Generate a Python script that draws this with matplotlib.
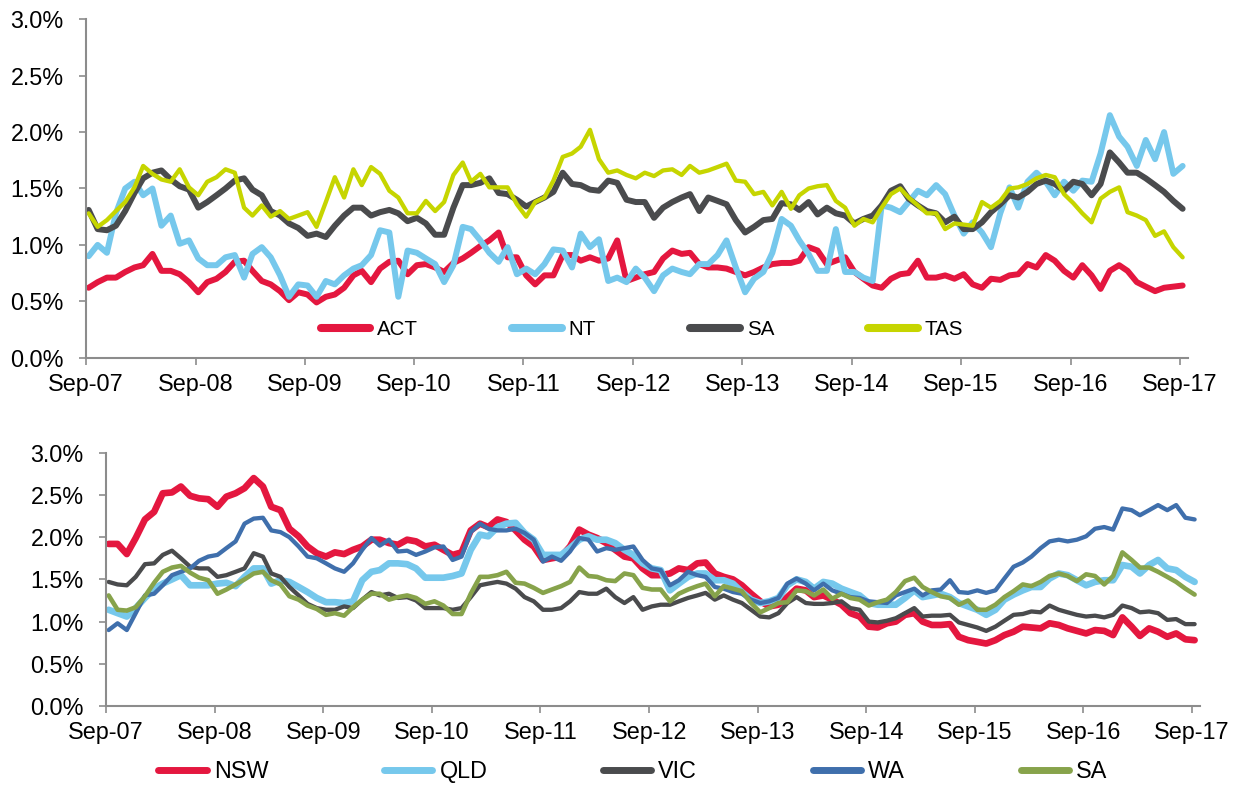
import numpy as np
import pandas as pd
import matplotlib
matplotlib.use("Agg")
import matplotlib.pyplot as plt
from matplotlib.ticker import FuncFormatter, MultipleLocator

plt.rcParams['font.family'] = ['Liberation Sans', 'DejaVu Sans']

# Monthly observations, Sep-07 .. Sep-17 (values in %)
act = [0.62, 0.67, 0.71, 0.71, 0.76, 0.80, 0.82, 0.92, 0.77, 0.77,
       0.74, 0.67, 0.58, 0.67, 0.70, 0.76, 0.85, 0.86, 0.77, 0.68,
       0.65, 0.59, 0.51, 0.58, 0.56, 0.49, 0.54, 0.56, 0.62, 0.73,
       0.77, 0.67, 0.79, 0.85, 0.86, 0.74, 0.82, 0.83, 0.80, 0.76,
       0.84, 0.88, 0.93, 0.99, 1.04, 1.11, 0.89, 0.89, 0.73, 0.65,
       0.73, 0.73, 0.91, 0.91, 0.86, 0.89, 0.86, 0.88, 1.04, 0.68,
       0.71, 0.74, 0.76, 0.88, 0.95, 0.92, 0.93, 0.83, 0.80, 0.80,
       0.79, 0.76, 0.73, 0.76, 0.80, 0.83, 0.84, 0.84, 0.86, 0.98,
       0.95, 0.83, 0.86, 0.89, 0.76, 0.70, 0.64, 0.62, 0.70, 0.74,
       0.75, 0.86, 0.71, 0.71, 0.73, 0.70, 0.74, 0.65, 0.62, 0.70,
       0.69, 0.73, 0.74, 0.83, 0.80, 0.91, 0.86, 0.77, 0.71, 0.82,
       0.73, 0.61, 0.77, 0.82, 0.77, 0.67, 0.63, 0.59, 0.62, 0.63, 0.64]

nt = [0.90, 1.00, 0.93, 1.28, 1.50, 1.56, 1.44, 1.50, 1.17, 1.26,
      1.01, 1.04, 0.88, 0.82, 0.82, 0.89, 0.91, 0.71, 0.92, 0.98,
      0.89, 0.73, 0.54, 0.65, 0.64, 0.54, 0.68, 0.65, 0.73, 0.79,
      0.82, 0.91, 1.13, 1.11, 0.54, 0.95, 0.93, 0.88, 0.83, 0.67,
      0.82, 1.16, 1.14, 1.04, 0.93, 0.85, 0.98, 0.74, 0.79, 0.74,
      0.83, 0.96, 0.95, 0.80, 1.10, 0.98, 1.05, 0.68, 0.71, 0.67,
      0.79, 0.71, 0.59, 0.73, 0.79, 0.76, 0.74, 0.83, 0.83, 0.91,
      1.04, 0.80, 0.58, 0.70, 0.76, 0.93, 1.23, 1.17, 1.04, 0.92,
      0.77, 0.77, 1.14, 0.76, 0.76, 0.71, 0.68, 1.35, 1.33, 1.29,
      1.38, 1.48, 1.44, 1.53, 1.45, 1.26, 1.10, 1.20, 1.11, 0.98,
      1.28, 1.51, 1.33, 1.56, 1.64, 1.56, 1.44, 1.56, 1.48, 1.57,
      1.56, 1.81, 2.15, 1.96, 1.87, 1.70, 1.93, 1.76, 2.00, 1.63, 1.70]

sa = [1.31, 1.14, 1.13, 1.17, 1.30, 1.46, 1.59, 1.64, 1.66, 1.58,
      1.52, 1.49, 1.33, 1.38, 1.44, 1.50, 1.57, 1.59, 1.49, 1.44,
      1.30, 1.26, 1.19, 1.15, 1.08, 1.10, 1.07, 1.17, 1.26, 1.33,
      1.33, 1.26, 1.29, 1.31, 1.28, 1.21, 1.24, 1.19, 1.09, 1.09,
      1.33, 1.53, 1.53, 1.55, 1.59, 1.46, 1.45, 1.40, 1.34, 1.38,
      1.42, 1.47, 1.64, 1.54, 1.53, 1.49, 1.48, 1.57, 1.55, 1.40,
      1.38, 1.38, 1.24, 1.33, 1.38, 1.42, 1.45, 1.30, 1.42, 1.39,
      1.36, 1.22, 1.11, 1.16, 1.22, 1.23, 1.37, 1.36, 1.31, 1.38,
      1.27, 1.33, 1.28, 1.26, 1.19, 1.23, 1.26, 1.35, 1.48, 1.52,
      1.41, 1.35, 1.30, 1.28, 1.20, 1.25, 1.14, 1.14, 1.20, 1.29,
      1.36, 1.44, 1.42, 1.47, 1.54, 1.57, 1.54, 1.48, 1.56, 1.54,
      1.44, 1.54, 1.82, 1.73, 1.64, 1.64, 1.59, 1.53, 1.47, 1.39, 1.32]

tas = [1.28, 1.16, 1.22, 1.30, 1.38, 1.51, 1.70, 1.63, 1.58, 1.56,
       1.67, 1.51, 1.44, 1.56, 1.60, 1.67, 1.64, 1.33, 1.26, 1.35,
       1.25, 1.30, 1.23, 1.26, 1.29, 1.16, 1.38, 1.60, 1.42, 1.67,
       1.53, 1.69, 1.63, 1.48, 1.42, 1.28, 1.28, 1.39, 1.30, 1.38,
       1.62, 1.73, 1.56, 1.63, 1.51, 1.51, 1.51, 1.36, 1.25, 1.38,
       1.42, 1.57, 1.78, 1.81, 1.87, 2.02, 1.76, 1.64, 1.66, 1.62,
       1.59, 1.64, 1.61, 1.66, 1.67, 1.62, 1.70, 1.64, 1.66, 1.69,
       1.72, 1.57, 1.56, 1.45, 1.47, 1.35, 1.47, 1.32, 1.44, 1.50,
       1.52, 1.53, 1.39, 1.33, 1.17, 1.23, 1.20, 1.33, 1.45, 1.50,
       1.42, 1.35, 1.28, 1.28, 1.14, 1.19, 1.18, 1.17, 1.38, 1.33,
       1.39, 1.50, 1.51, 1.54, 1.59, 1.62, 1.60, 1.45, 1.37, 1.28,
       1.20, 1.41, 1.47, 1.51, 1.29, 1.26, 1.22, 1.08, 1.12, 0.98, 0.89]

nsw = [1.92, 1.92, 1.80, 1.99, 2.21, 2.30, 2.52, 2.53, 2.60, 2.49,
       2.46, 2.45, 2.36, 2.48, 2.52, 2.58, 2.70, 2.60, 2.36, 2.32,
       2.10, 2.01, 1.89, 1.81, 1.77, 1.82, 1.80, 1.85, 1.89, 1.97,
       1.97, 1.93, 1.91, 1.97, 1.95, 1.89, 1.91, 1.85, 1.79, 1.82,
       2.08, 2.16, 2.12, 2.21, 2.18, 2.08, 1.97, 1.89, 1.73, 1.75,
       1.77, 1.89, 2.09, 2.03, 1.99, 1.93, 1.85, 1.77, 1.75, 1.63,
       1.55, 1.55, 1.57, 1.63, 1.61, 1.69, 1.70, 1.57, 1.53, 1.50,
       1.43, 1.33, 1.24, 1.18, 1.20, 1.29, 1.39, 1.37, 1.29, 1.31,
       1.26, 1.20, 1.10, 1.06, 0.94, 0.93, 0.98, 1.00, 1.08, 1.10,
       1.00, 0.96, 0.96, 0.97, 0.82, 0.78, 0.76, 0.74, 0.78, 0.84,
       0.88, 0.94, 0.93, 0.92, 0.98, 0.96, 0.92, 0.89, 0.86, 0.90,
       0.89, 0.84, 1.05, 0.94, 0.83, 0.92, 0.88, 0.82, 0.86, 0.79, 0.78]

qld = [1.14, 1.10, 1.06, 1.16, 1.28, 1.39, 1.45, 1.50, 1.55, 1.43,
       1.43, 1.43, 1.45, 1.46, 1.42, 1.53, 1.63, 1.63, 1.45, 1.49,
       1.47, 1.41, 1.35, 1.28, 1.23, 1.23, 1.22, 1.24, 1.49, 1.59,
       1.61, 1.69, 1.69, 1.68, 1.63, 1.52, 1.52, 1.52, 1.54, 1.57,
       1.85, 2.03, 2.01, 2.12, 2.16, 2.17, 2.05, 1.97, 1.79, 1.79,
       1.79, 1.87, 1.97, 2.01, 1.97, 1.97, 1.93, 1.85, 1.79, 1.69,
       1.63, 1.61, 1.37, 1.45, 1.53, 1.57, 1.57, 1.49, 1.49, 1.45,
       1.35, 1.26, 1.22, 1.24, 1.28, 1.43, 1.50, 1.47, 1.39, 1.47,
       1.45, 1.39, 1.35, 1.31, 1.22, 1.20, 1.20, 1.20, 1.28, 1.37,
       1.29, 1.31, 1.33, 1.29, 1.22, 1.18, 1.14, 1.08, 1.14, 1.26,
       1.32, 1.37, 1.41, 1.41, 1.51, 1.57, 1.55, 1.49, 1.43, 1.47,
       1.49, 1.49, 1.67, 1.65, 1.57, 1.67, 1.73, 1.63, 1.61, 1.53, 1.47]

vic = [1.47, 1.44, 1.43, 1.53, 1.68, 1.69, 1.79, 1.84, 1.75, 1.65,
       1.63, 1.63, 1.53, 1.55, 1.59, 1.63, 1.81, 1.77, 1.57, 1.53,
       1.41, 1.31, 1.21, 1.16, 1.14, 1.14, 1.18, 1.16, 1.26, 1.35,
       1.31, 1.33, 1.28, 1.29, 1.25, 1.16, 1.16, 1.16, 1.14, 1.16,
       1.29, 1.43, 1.45, 1.47, 1.45, 1.39, 1.29, 1.24, 1.14, 1.14,
       1.16, 1.24, 1.35, 1.33, 1.33, 1.39, 1.29, 1.22, 1.29, 1.14,
       1.18, 1.20, 1.20, 1.24, 1.28, 1.31, 1.34, 1.26, 1.31, 1.26,
       1.22, 1.14, 1.06, 1.05, 1.10, 1.22, 1.29, 1.22, 1.21, 1.21,
       1.22, 1.24, 1.16, 1.14, 1.00, 0.99, 1.01, 1.04, 1.10, 1.16,
       1.06, 1.07, 1.07, 1.08, 0.99, 0.96, 0.93, 0.89, 0.94, 1.01,
       1.08, 1.09, 1.12, 1.11, 1.19, 1.14, 1.11, 1.08, 1.06, 1.07,
       1.05, 1.08, 1.19, 1.16, 1.11, 1.12, 1.10, 1.02, 1.03, 0.97, 0.97]

wa = [0.90, 0.98, 0.90, 1.10, 1.31, 1.33, 1.43, 1.55, 1.59, 1.63,
      1.72, 1.77, 1.79, 1.87, 1.95, 2.16, 2.22, 2.23, 2.08, 2.06,
      2.00, 1.89, 1.77, 1.75, 1.69, 1.63, 1.59, 1.69, 1.85, 1.99,
      1.90, 1.97, 1.83, 1.84, 1.79, 1.83, 1.88, 1.89, 1.73, 1.77,
      2.06, 2.16, 2.10, 2.08, 2.08, 2.10, 2.05, 1.97, 1.71, 1.77,
      1.72, 1.83, 1.99, 1.97, 1.83, 1.87, 1.85, 1.87, 1.89, 1.73,
      1.63, 1.61, 1.43, 1.49, 1.59, 1.55, 1.53, 1.41, 1.39, 1.35,
      1.33, 1.26, 1.22, 1.24, 1.28, 1.45, 1.51, 1.45, 1.37, 1.45,
      1.37, 1.33, 1.29, 1.28, 1.24, 1.23, 1.22, 1.31, 1.35, 1.39,
      1.31, 1.37, 1.38, 1.49, 1.35, 1.34, 1.37, 1.34, 1.37, 1.51,
      1.65, 1.70, 1.77, 1.87, 1.95, 1.97, 1.95, 1.97, 2.01, 2.10,
      2.12, 2.09, 2.34, 2.32, 2.26, 2.32, 2.38, 2.32, 2.38, 2.23, 2.21]

# observation dates (early in each month) and yearly tick dates
dates = pd.date_range('2007-09-01', periods=len(act), freq='MS') + pd.Timedelta(days=9)
tick_dates = pd.date_range('2007-09-01', '2017-09-01', freq='12MS')
tick_labels = [d.strftime('%b-%y') for d in tick_dates]
x_end = pd.Timestamp('2017-09-28')

C_RED = '#e4173f'
C_LBLUE = '#76c8ec'
C_DGREY = '#4a4b4d'
C_LIME = '#c6d500'
C_BLUE = '#3f6fac'
C_OLIVE = '#87a34b'
AX_GREY = '#8c8c8c'
TICK_FS = 16.8

fig = plt.figure(figsize=(12.44, 7.90), dpi=100)
ax1 = fig.add_axes([0.0691, 0.5472, 0.8859, 0.4284])
ax2 = fig.add_axes([0.0852, 0.1063, 0.8794, 0.3206])


def style_axes(ax):
    ax.set_xlim(pd.Timestamp('2007-09-01'), x_end)
    ax.set_ylim(0, 0.03)
    ax.yaxis.set_major_locator(MultipleLocator(0.005))
    ax.yaxis.set_major_formatter(FuncFormatter(lambda v, _: f'{v * 100:.1f}%'))
    ax.set_xticks(tick_dates)
    ax.set_xticklabels(tick_labels)
    for side in ('top', 'right'):
        ax.spines[side].set_visible(False)
    for side in ('left', 'bottom'):
        ax.spines[side].set_color(AX_GREY)
        ax.spines[side].set_linewidth(1.5)
    ax.tick_params(axis='both', direction='out', length=5, width=1.2,
                   color=AX_GREY, labelsize=TICK_FS, labelcolor='black')
    ax.tick_params(axis='y', pad=11)
    ax.tick_params(axis='x', pad=6)


def draw(ax, values, color, lw, label):
    ax.plot(dates, np.asarray(values) / 100.0, color=color, lw=lw, label=label,
            solid_joinstyle='round', solid_capstyle='round')


# upper panel: smaller states and territories
draw(ax1, act, C_RED, 4.3, 'ACT')
draw(ax1, nt, C_LBLUE, 4.3, 'NT')
draw(ax1, sa, C_DGREY, 4.3, 'SA')
draw(ax1, tas, C_LIME, 3.1, 'TAS')
style_axes(ax1)
leg1 = ax1.legend(loc='center', bbox_to_anchor=(0.5045, 0.084), ncol=4,
                  frameon=False, fontsize=14.8, handlelength=2.4,
                  handletextpad=0.33, columnspacing=4.6, borderpad=0,
                  borderaxespad=0)
for h in leg1.get_lines():
    h.set_linewidth(5.8)

# lower panel: larger states
draw(ax2, nsw, C_RED, 4.8, 'NSW')
draw(ax2, qld, C_LBLUE, 4.8, 'QLD')
draw(ax2, vic, C_DGREY, 3.1, 'VIC')
draw(ax2, wa, C_BLUE, 3.1, 'WA')
draw(ax2, sa, C_OLIVE, 3.3, 'SA')
style_axes(ax2)
leg2 = fig.legend(*ax2.get_legend_handles_labels(), loc='center',
                  bbox_to_anchor=(0.5088, 0.0228), ncol=5, frameon=False,
                  fontsize=TICK_FS, handlelength=2.07, handletextpad=0.3,
                  columnspacing=4.96, borderpad=0, borderaxespad=0)
for h in leg2.get_lines():
    h.set_linewidth(5.0)

fig.savefig('out.png', dpi=100)
